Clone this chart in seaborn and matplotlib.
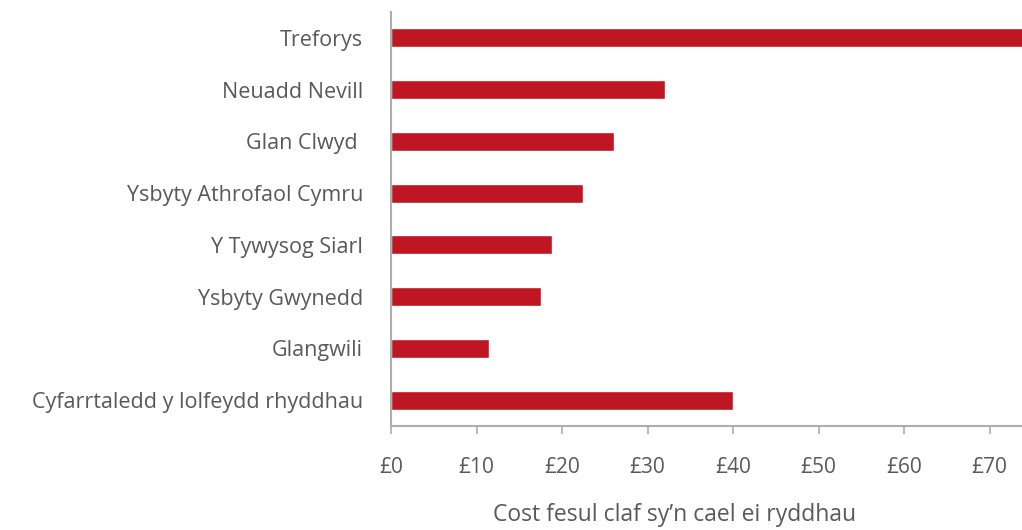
import matplotlib
matplotlib.use("Agg")
import matplotlib.pyplot as plt
import pandas as pd
import seaborn as sns

# Cost per discharged patient (GBP)
hospitals = [
    "Treforys",
    "Neuadd Nevill",
    "Glan Clwyd ",
    "Ysbyty Athrofaol Cymru",
    "Y Tywysog Siarl",
    "Ysbyty Gwynedd",
    "Glangwili",
    "Cyfarrtaledd y lolfeydd rhyddhau",
]
cost = [78.0, 32.0, 26.1, 22.5, 18.8, 17.6, 11.5, 40.0]
xticks = [0, 10, 20, 30, 40, 50, 60, 70]

df = pd.DataFrame({"hospital": hospitals, "cost": cost})

sns.set_style("white")
plt.rcParams["font.family"] = ["Open Sans", "DejaVu Sans"]

grey_text = "#595959"
grey_line = "#ADADAD"

fig = plt.figure(figsize=(10.22, 5.30), dpi=100)
ax = fig.add_axes([391 / 1022, 1 - 426 / 530, 1 - 391 / 1022, (426 - 12) / 530])

sns.barplot(data=df, x="cost", y="hospital", orient="h", color="#BE1622",
            saturation=1, width=0.37, ax=ax)

ax.set_xlim(0, 73.8)
ax.set_xticks(xticks)
ax.set_xticklabels(["£%d" % t for t in xticks])
ax.set_ylabel("")
ax.set_xlabel("Cost fesul claf sy’n cael ei ryddhau", fontsize=16.5,
              color=grey_text)
# the title sits a little left of the plot centre in the original
ax.xaxis.set_label_coords(0.449, -0.185)

for side in ["top", "right"]:
    ax.spines[side].set_visible(False)
for side in ["left", "bottom"]:
    ax.spines[side].set_color(grey_line)
    ax.spines[side].set_linewidth(1.5)

ax.tick_params(axis="x", length=6, width=1.2, color=grey_line, bottom=True,
               labelsize=15, labelcolor=grey_text, pad=16)
ax.tick_params(axis="y", length=0, labelsize=15.5, labelcolor=grey_text, pad=20)

fig.savefig("out.png", dpi=100, facecolor="white")
